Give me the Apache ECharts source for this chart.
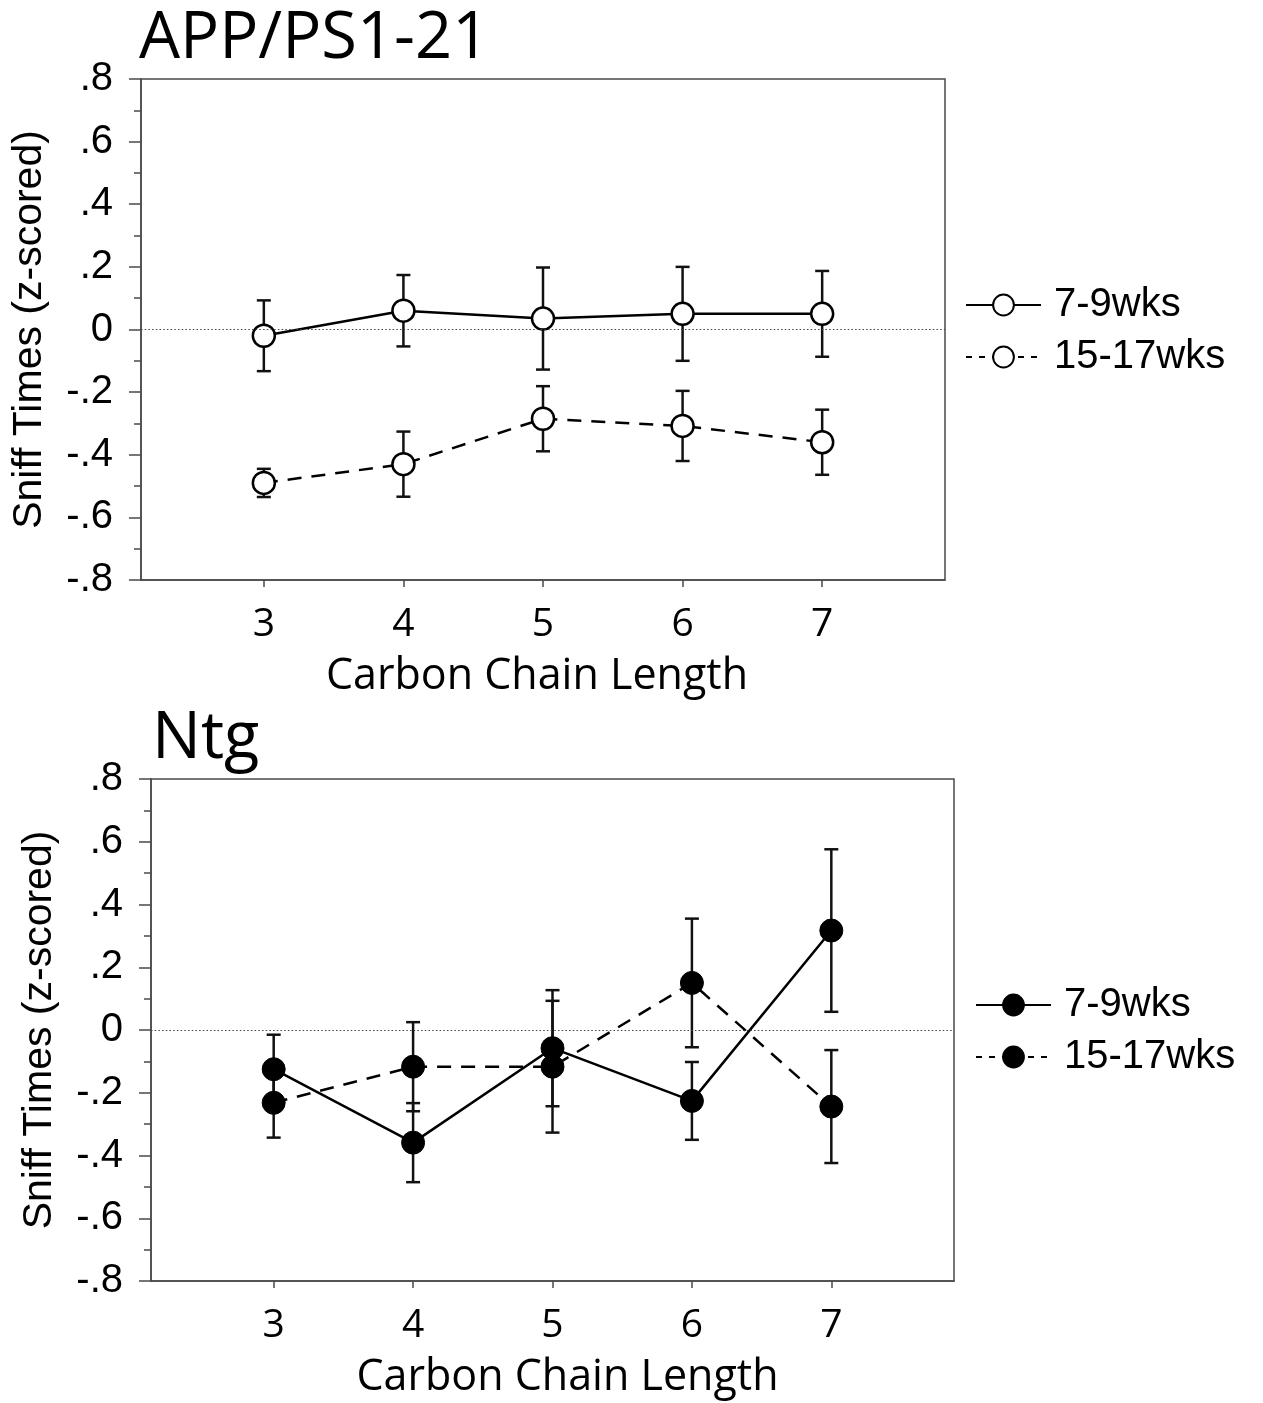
<!DOCTYPE html>
<html>
<head>
<meta charset="utf-8">
<title>Sniff Times by Carbon Chain Length</title>
<script src="https://cdn.jsdelivr.net/npm/echarts@6/dist/echarts.min.js"></script>
<style>
  html, body { margin: 0; padding: 0; background: #fff; }
  #chart { width: 1263px; height: 1403px; }
</style>
</head>
<body>
<div id="chart"></div>
<script>
// Odorant carbon chain length (x values)
const chainLengths = [3, 4, 5, 6, 7];

// Y axis ticks and their printed labels
const yTicks = [-0.8, -0.6, -0.4, -0.2, 0, 0.2, 0.4, 0.6, 0.8];
const yTickLabels = ['-.8', '-.6', '-.4', '-.2', '0', '.2', '.4', '.6', '.8'];

// Group names shown in the legends
const ageGroups = ['7-9wks', '15-17wks'];
const panelTitles = ['APP/PS1-21', 'Ntg'];

// APP/PS1-21 mice: mean z-scored sniff time and error (SEM)
const appYoungMean = [-0.02, 0.06, 0.035, 0.05, 0.05];
const appYoungErr  = [0.113, 0.114, 0.163, 0.15, 0.137];
const appOldMean   = [-0.49, -0.43, -0.285, -0.308, -0.36];
const appOldErr    = [0.045, 0.104, 0.104, 0.112, 0.104];

// Non-transgenic mice
const ntgYoungMean = [-0.125, -0.359, -0.058, -0.226, 0.317];
const ntgYoungErr  = [0.11, 0.126, 0.185, 0.124, 0.259];
const ntgOldMean   = [-0.232, -0.117, -0.117, 0.15, -0.244];
const ntgOldErr    = [0.111, 0.142, 0.21, 0.205, 0.18];

const AXIS_COLOR = '#4a4a4a';
const INK = '#000';
const DASH = [14, 10];
const MARK_WIDTH = 2.5;

function yLabel(v) {
  let best = 0;
  for (let i = 1; i < yTicks.length; i++) {
    if (Math.abs(yTicks[i] - v) < Math.abs(yTicks[best] - v)) best = i;
  }
  return yTickLabels[best];
}

function makeXAxis(gridIndex, namePadding) {
  return {
    gridIndex,
    type: 'value',
    min: 2.12,
    max: 7.88,
    name: 'Carbon Chain Length',
    nameLocation: 'middle',
    nameGap: 75,
    nameTextStyle: {
      fontFamily: 'Open Sans', fontSize: 43, color: INK, padding: namePadding
    },
    axisLine: { show: true, onZero: false, lineStyle: { color: AXIS_COLOR, width: 1.5 } },
    axisTick: { show: true, inside: false, length: 7, customValues: chainLengths,
                lineStyle: { color: AXIS_COLOR, width: 1.5 } },
    axisLabel: { show: true, margin: 25, customValues: chainLengths,
                 fontFamily: 'Open Sans', fontSize: 39, color: INK },
    splitLine: { show: false }
  };
}

function makeYAxis(gridIndex) {
  return {
    gridIndex,
    type: 'value',
    min: -0.8,
    max: 0.8,
    interval: 0.2,
    name: 'Sniff Times (z-scored)',
    nameLocation: 'middle',
    nameRotate: 90,
    nameGap: 91,
    nameTextStyle: { fontFamily: 'Liberation Sans', fontSize: 41, color: INK },
    axisLine: { show: true, onZero: false, lineStyle: { color: AXIS_COLOR, width: 1.5 } },
    axisTick: { show: true, inside: false, length: 12, lineStyle: { color: AXIS_COLOR, width: 1.5 } },
    minorTick: { show: true, splitNumber: 2, length: 7, lineStyle: { color: AXIS_COLOR, width: 1.5 } },
    axisLabel: { show: true, margin: 28, formatter: yLabel,
                 fontFamily: 'Liberation Sans', fontSize: 40, color: INK },
    splitLine: { show: false },
    minorSplitLine: { show: false }
  };
}

function pairs(means) {
  return chainLengths.map((c, i) => [c, means[i]]);
}

// Vertical error bars with caps, positioned through the axes
function errorBars(name, axisIndex, means, errs) {
  return {
    name,
    type: 'custom',
    xAxisIndex: axisIndex,
    yAxisIndex: axisIndex,
    z: 1,
    silent: true,
    data: chainLengths.map((c, i) => [c, means[i] - errs[i], means[i] + errs[i]]),
    encode: { x: 0, y: [1, 2] },
    renderItem: function (params, api) {
      const lo = api.coord([api.value(0), api.value(1)]);
      const hi = api.coord([api.value(0), api.value(2)]);
      const half = 7;
      const style = { stroke: '#111', lineWidth: MARK_WIDTH, fill: null };
      return {
        type: 'group',
        children: [
          { type: 'line', shape: { x1: lo[0], y1: lo[1], x2: hi[0], y2: hi[1] }, style },
          { type: 'line', shape: { x1: lo[0] - half, y1: lo[1], x2: lo[0] + half, y2: lo[1] }, style },
          { type: 'line', shape: { x1: hi[0] - half, y1: hi[1], x2: hi[0] + half, y2: hi[1] }, style }
        ]
      };
    }
  };
}

function meanLine(name, axisIndex, means, dashed, filled, withZeroLine) {
  const s = {
    name,
    type: 'line',
    xAxisIndex: axisIndex,
    yAxisIndex: axisIndex,
    z: 3,
    data: pairs(means),
    symbol: 'circle',
    symbolSize: filled ? 23 : 22,
    showAllSymbol: true,
    itemStyle: filled
      ? { color: INK, borderColor: INK, borderWidth: 1 }
      : { color: '#fff', borderColor: INK, borderWidth: MARK_WIDTH },
    lineStyle: { color: INK, width: MARK_WIDTH, type: dashed ? DASH : 'solid' },
    emphasis: { disabled: true }
  };
  if (withZeroLine) {
    s.markLine = {
      silent: true,
      symbol: 'none',
      label: { show: false },
      lineStyle: { color: '#444', width: 1.2, type: [1.5, 2.2] },
      data: [{ yAxis: 0 }]
    };
  }
  return s;
}

function makeLegend(prefix, left, top) {
  return {
    orient: 'vertical',
    left, top,
    padding: 0,
    itemWidth: 75,
    itemHeight: 26,
    itemGap: 12,
    selectedMode: false,
    formatter: n => n.slice(prefix.length + 1),
    textStyle: { fontFamily: 'Liberation Sans', fontSize: 40, color: INK, padding: [0, 0, 0, 8] },
    data: [
      { name: prefix + ' ' + ageGroups[0] },
      { name: prefix + ' ' + ageGroups[1], lineStyle: { type: [6, 7] } }
    ]
  };
}

const chart = echarts.init(document.getElementById('chart'), null, { renderer: 'canvas' });

chart.setOption({
  animation: false,
  backgroundColor: '#fff',
  title: [
    { text: panelTitles[0], left: 134, top: 2,
      textStyle: { fontFamily: 'Open Sans', fontSize: 65, fontWeight: 'normal', color: INK } },
    { text: panelTitles[1], left: 147, top: 702,
      textStyle: { fontFamily: 'Open Sans', fontSize: 65, fontWeight: 'normal', color: INK } }
  ],
  grid: [
    { left: 141, top: 79, width: 804, height: 501, show: true,
      borderColor: AXIS_COLOR, borderWidth: 1.5, backgroundColor: 'transparent' },
    { left: 151, top: 779, width: 803, height: 502, show: true,
      borderColor: AXIS_COLOR, borderWidth: 1.5, backgroundColor: 'transparent' }
  ],
  xAxis: [makeXAxis(0, [0, 12, 0, 0]), makeXAxis(1, [0, 0, 0, 30])],
  yAxis: [makeYAxis(0), makeYAxis(1)],
  legend: [makeLegend('APP', 965, 285), makeLegend('Ntg', 975, 985)],
  series: [
    errorBars('APP err young', 0, appYoungMean, appYoungErr),
    errorBars('APP err old', 0, appOldMean, appOldErr),
    meanLine('APP ' + ageGroups[0], 0, appYoungMean, false, false, true),
    meanLine('APP ' + ageGroups[1], 0, appOldMean, true, false, false),
    errorBars('Ntg err young', 1, ntgYoungMean, ntgYoungErr),
    errorBars('Ntg err old', 1, ntgOldMean, ntgOldErr),
    meanLine('Ntg ' + ageGroups[0], 1, ntgYoungMean, false, true, true),
    meanLine('Ntg ' + ageGroups[1], 1, ntgOldMean, true, true, false)
  ]
});
</script>
</body>
</html>
